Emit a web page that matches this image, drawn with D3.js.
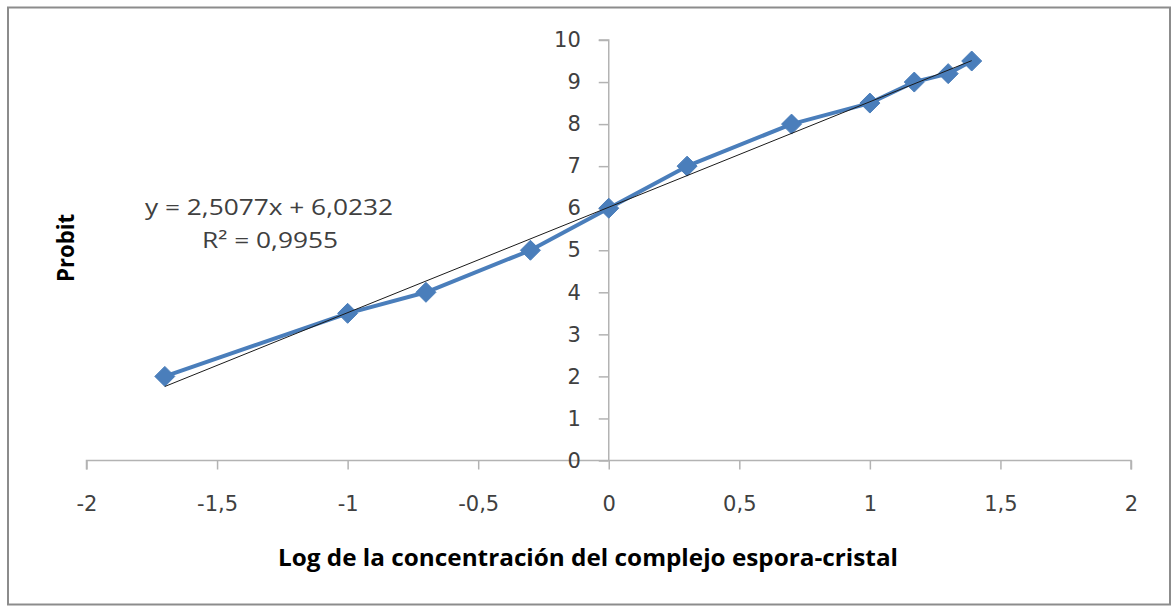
<!DOCTYPE html>
<html><head><meta charset="utf-8">
<script src="https://cdn.jsdelivr.net/npm/d3@7"></script>
<style>
html,body{margin:0;padding:0;background:#fff;}
svg{display:block;}
</style></head>
<body>
<svg id="chart" width="1172" height="608"></svg>
<script>
// ---- data ----
const logConc = [-1.7, -1, -0.7, -0.3, 0, 0.3, 0.7, 1, 1.17, 1.3, 1.39];
const probit  = [2, 3.5, 4, 5, 6, 7, 8, 8.5, 9, 9.2, 9.5];
const xTicks = [-2, -1.5, -1, -0.5, 0, 0.5, 1, 1.5, 2];
const yTicks = [0, 1, 2, 3, 4, 5, 6, 7, 8, 9, 10];
const trendSlope = [2.5077];
const trendIntercept = [6.0232];
const equationLines = ["y = 2,5077x + 6,0232", "R² = 0,9955"];
const xTitle = "Log de la concentración del complejo espora-cristal";
const yTitle = "Probit";

const svg = d3.select("#chart");
const fmt = v => String(v).replace(".", ",");
const mainFont = "'Open Sans', 'Liberation Sans', sans-serif";
const tickFont = "'DejaVu Sans', sans-serif";

// outer frame
svg.append("rect").attr("x", 8).attr("y", 7.5).attr("width", 1162).attr("height", 597)
  .attr("fill", "#fff").attr("stroke", "#8c8c8c").attr("stroke-width", 2);

const x = d3.scaleLinear().domain([-2, 2]).range([86.5, 1131]);
const y = d3.scaleLinear().domain([0, 10]).range([460.5, 40]);

const axisColor = "#b3b3b3";
const labelColor = "#404040";

// x axis
const gx = svg.append("g").attr("transform", `translate(0,${y(0)})`)
  .call(d3.axisBottom(x).tickValues(xTicks).tickSize(9).tickPadding(27).tickFormat(fmt));
gx.select(".domain").attr("stroke", axisColor).attr("stroke-width", 1.5).attr("d", `M${x(-2)},9V0H${x(2)}V9`);
gx.selectAll(".tick line").attr("stroke", axisColor).attr("stroke-width", 1.5);
gx.selectAll(".tick text").attr("fill", labelColor).attr("font-size", 21).attr("font-family", tickFont);

// y axis
const gy = svg.append("g").attr("transform", `translate(${x(0)},0)`)
  .call(d3.axisLeft(y).tickValues(yTicks).tickSize(10).tickPadding(18).tickFormat(fmt));
gy.select(".domain").attr("stroke", axisColor).attr("stroke-width", 1.5).attr("d", `M-10,${y(10)}H0V${y(0)}`);
gy.selectAll(".tick line").attr("stroke", axisColor).attr("stroke-width", 1.5);
gy.selectAll(".tick text").attr("fill", labelColor).attr("font-size", 21).attr("font-family", tickFont);

const pts = logConc.map((v, i) => ({x: v, y: probit[i]}));

// series line
svg.append("path").datum(pts)
  .attr("fill", "none").attr("stroke", "#4a7ebb").attr("stroke-width", 4).attr("stroke-linejoin", "round")
  .attr("d", d3.line().x(d => x(d.x)).y(d => y(d.y)));

// markers
svg.append("g").selectAll("path").data(pts).join("path")
  .attr("transform", d => `translate(${x(d.x)},${y(d.y)})`)
  .attr("d", "M0,-10L10,0L0,10L-10,0Z")
  .attr("fill", "#4a7ebb").attr("stroke", "#4a7ebb").attr("stroke-width", 1);

// trendline
const xmin = d3.min(logConc), xmax = d3.max(logConc);
const trend = [xmin, xmax].map(v => ({x: v, y: trendSlope[0] * v + trendIntercept[0]}));
svg.append("path").datum(trend)
  .attr("fill", "none").attr("stroke", "#1a1a1a").attr("stroke-width", 1)
  .attr("d", d3.line().x(d => x(d.x)).y(d => y(d.y)));

// equation
svg.append("text").attr("x", 269).attr("y", 215).attr("text-anchor", "middle").attr("font-family", mainFont)
  .attr("font-size", 22).attr("fill", "#404040").attr("textLength", 248).attr("lengthAdjust", "spacingAndGlyphs")
  .text(equationLines[0]);
svg.append("text").attr("x", 270).attr("y", 248).attr("text-anchor", "middle").attr("font-family", mainFont)
  .attr("font-size", 22).attr("fill", "#404040").attr("textLength", 136).attr("lengthAdjust", "spacingAndGlyphs")
  .text(equationLines[1]);

// titles
svg.append("text").attr("x", 588).attr("y", 566).attr("text-anchor", "middle").attr("font-family", mainFont)
  .attr("font-size", 23).attr("font-weight", "bold").attr("fill", "#000")
  .attr("textLength", 620).attr("lengthAdjust", "spacingAndGlyphs").text(xTitle);
svg.append("text").attr("transform", "translate(74,248) rotate(-90)").attr("text-anchor", "middle").attr("font-family", mainFont)
  .attr("font-size", 23).attr("font-weight", "bold").attr("fill", "#000")
  .attr("textLength", 68).attr("lengthAdjust", "spacingAndGlyphs").text(yTitle);
</script>
</body></html>
